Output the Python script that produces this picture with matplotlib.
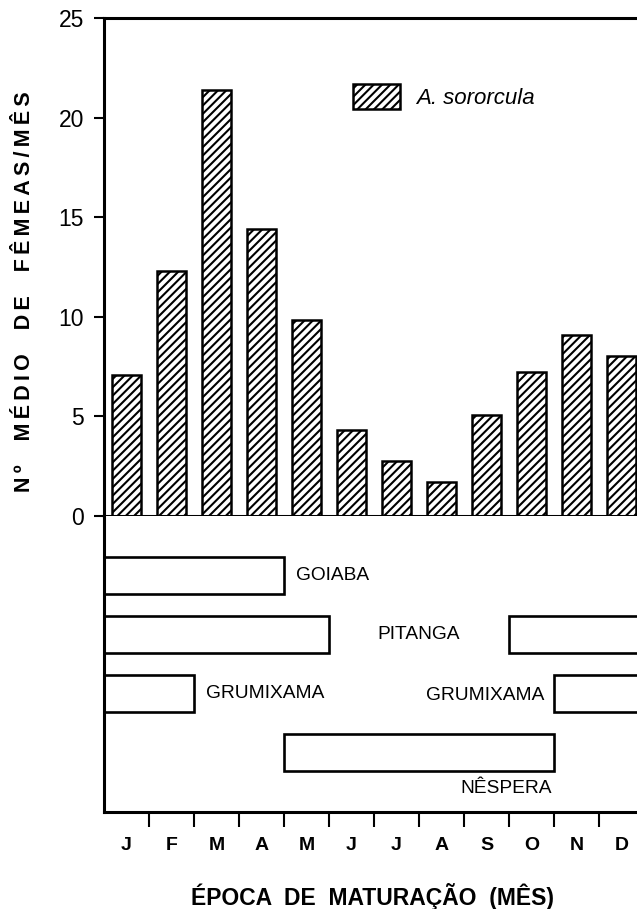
import matplotlib
matplotlib.use("Agg")
import matplotlib.pyplot as plt
import numpy as np

plt.rcParams['font.family'] = ['Liberation Sans', 'DejaVu Sans']
plt.rcParams['hatch.linewidth'] = 1.5

# data
months = ['J', 'F', 'M', 'A', 'M', 'J', 'J', 'A', 'S', 'O', 'N', 'D']
females = [7.1, 12.3, 21.4, 14.4, 9.85, 4.3, 2.75, 1.7, 5.05, 7.25, 9.1, 8.05]
species = 'A. sororcula'

fruit_names = ['GOIABA', 'PITANGA', 'PITANGA', 'GRUMIXAMA', 'GRUMIXAMA', 'NÊSPERA']
fruit_start = [0, 0, 9, 0, 10, 4]
fruit_end = [4, 5, 12, 2, 12, 10]
fruit_row = [1, 2, 2, 3, 3, 4]

W, H = 637, 909
fig = plt.figure(figsize=(W / 100, H / 100), dpi=100)

x0 = 104
month_px = 45.0
xmax = (W - x0) / month_px

def spaced(s, gap='    '):
    # wide letter spacing like the original typesetting
    words = s.split(' ')
    return gap.join('\u2009'.join(w) for w in words)

# top panel: bars
ax1 = fig.add_axes([x0 / W, (H - 516) / H, (W - x0) / W, (516 - 18) / H])
xc = np.arange(len(months)) + 0.5
ax1.bar(xc, females, width=0.66, facecolor='white', edgecolor='black',
        hatch='////', linewidth=1.8, label=species)
ax1.set_xlim(0, xmax)
ax1.set_ylim(0, 25)
ax1.set_yticks([0, 5, 10, 15, 20, 25])
ax1.set_xticks(np.arange(1, 12))
ax1.set_xticklabels([])
ax1.tick_params(axis='x', direction='out', length=10, width=1.5)
ax1.tick_params(axis='y', direction='out', length=7.5, width=1.5, pad=7, labelsize=16.5)
ax1.spines['right'].set_visible(False)
for s in ['top', 'left', 'bottom']:
    ax1.spines[s].set_linewidth(2.2)

ax1.legend(loc='upper left', bbox_to_anchor=((353 - x0) / (W - x0), (516 - 84) / 498),
           frameon=False, borderpad=0, borderaxespad=0, handlelength=2.1,
           handleheight=1.35, handletextpad=0.72,
           prop={'style': 'italic', 'size': 16})

# bottom panel: ripening periods
ax2 = fig.add_axes([x0 / W, (H - 812) / H, (W - x0) / W, (812 - 516) / H])
for name, a, b, r in zip(fruit_names, fruit_start, fruit_end, fruit_row):
    ax2.barh(r, b - a, left=a, height=0.62, facecolor='white',
             edgecolor='black', linewidth=1.9)
ax2.set_xlim(0, xmax)
ax2.set_ylim(5, 0)
ax2.set_yticks([])
ax2.set_xticks(np.arange(1, 12))
ax2.set_xticklabels([])
ax2.set_xticks(xc, minor=True)
ax2.set_xticklabels(months, minor=True, fontsize=14, fontweight='bold')
ax2.tick_params(axis='x', which='major', direction='out', length=11, width=1.5)
ax2.tick_params(axis='x', which='minor', length=0, pad=18)
ax2.spines['right'].set_visible(False)
ax2.spines['top'].set_visible(False)
for s in ['left', 'bottom']:
    ax2.spines[s].set_linewidth(2.2)

lab = dict(fontsize=13.8, va='center')
ax2.text(4.27, 1, fruit_names[0], ha='left', **lab)
ax2.text(7.0, 2, fruit_names[1], ha='center', **lab)
ax2.text(2.27, 3, fruit_names[3], ha='left', **lab)
ax2.text(9.78, 3.04, fruit_names[4], ha='right', **lab)
ax2.text(9.95, 4.6, fruit_names[5], ha='right', **lab)

fig.text(25 / W, (H - 292) / H, spaced('Nº MÉDIO DE FÊMEAS/MÊS'), rotation=90,
         ha='center', va='center', fontsize=15.5, fontweight='bold')
fig.text(373 / W, (H - 897) / H, 'ÉPOCA  DE  MATURAÇÃO  (MÊS)',
         ha='center', va='center', fontsize=16.5, fontweight='bold')

fig.savefig('out.png', dpi=100)
